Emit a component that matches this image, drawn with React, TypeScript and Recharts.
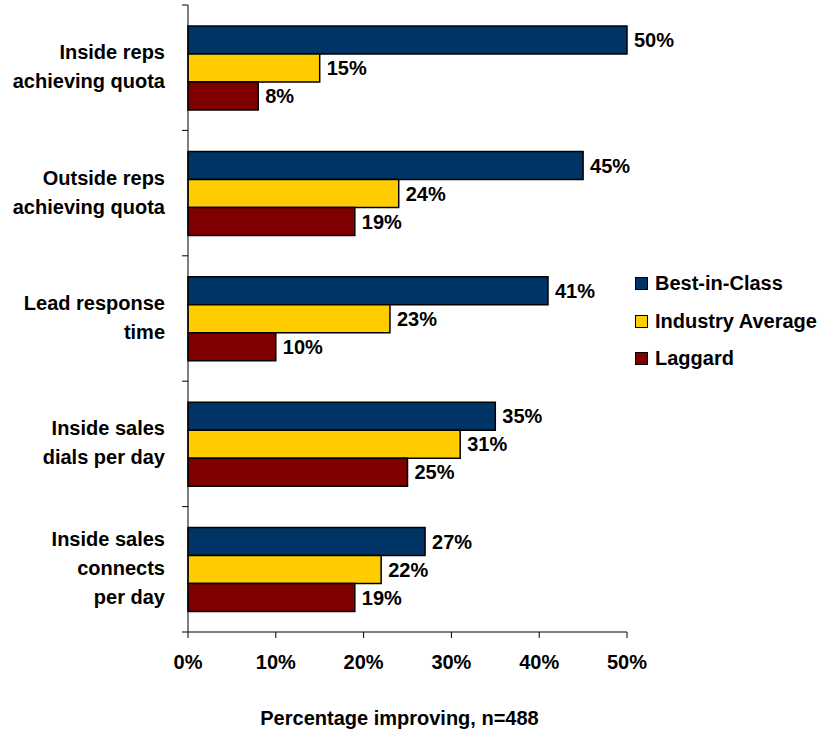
import { BarChart, Bar, XAxis, YAxis, Legend, LabelList } from "recharts";

const FONT = "'Liberation Sans', Arial, sans-serif";
const FS = 20;

const NAVY = "#003366";
const GOLD = "#FFCC00";
const MAROON = "#800000";

const categories = [
  "Inside reps\nachieving quota",
  "Outside reps\nachieving quota",
  "Lead response\ntime",
  "Inside sales\ndials per day",
  "Inside sales\nconnects\nper day",
];
const bestInClass = [50, 45, 41, 35, 27];
const industryAverage = [15, 24, 23, 31, 22];
const laggard = [8, 19, 10, 25, 19];
const xTicks = [0, 10, 20, 30, 40, 50];

const seriesInfo = [
  { key: "best", name: "Best-in-Class", color: NAVY },
  { key: "avg", name: "Industry Average", color: GOLD },
  { key: "lag", name: "Laggard", color: MAROON },
];

const data = categories.map((c, i) => ({
  category: c,
  best: bestInClass[i],
  avg: industryAverage[i],
  lag: laggard[i],
}));

const TICK_SIZE = 6;
const TICK_MARGIN = 17;
const LINE_H = 29;
const LEGEND_W = 187;

// category label plus tick marks on the band edges
function CategoryTick({ x, y, payload, index, visibleTicksCount }: any) {
  const lines = String(payload.value).split("\n");
  const half = payload.offset || 62.7;
  const axisX = x + TICK_MARGIN + TICK_SIZE;
  const last = index === (visibleTicksCount ?? categories.length) - 1;
  return (
    <g>
      <line x1={axisX - TICK_SIZE} x2={axisX} y1={y - half} y2={y - half} stroke="#000" />
      {last && (
        <line x1={axisX - TICK_SIZE} x2={axisX} y1={y + half} y2={y + half} stroke="#000" />
      )}
      <text textAnchor="end" fontFamily={FONT} fontWeight="bold" fontSize={FS} fill="#000">
        {lines.map((l, i) => (
          <tspan key={i} x={x} y={y + 6 + (i - (lines.length - 1) / 2) * LINE_H}>
            {l}
          </tspan>
        ))}
      </text>
    </g>
  );
}

function LegendBox() {
  return (
    <div style={{ fontFamily: FONT, fontWeight: "bold", fontSize: FS, color: "#000" }}>
      {seriesInfo.map((s) => (
        <div key={s.key} style={{ height: 37.5, display: "flex", alignItems: "center" }}>
          <span
            style={{
              display: "inline-block",
              width: 11,
              height: 11,
              background: s.color,
              border: "1.5px solid #000",
              marginRight: 7,
            }}
          />
          <span>{s.name}</span>
        </div>
      ))}
    </div>
  );
}

export default function App() {
  return (
    <div style={{ position: "absolute", left: 0, top: 0, background: "#fff" }}>
      <BarChart
        width={822}
        height={731}
        data={data}
        layout="vertical"
        margin={{ top: 5, right: 195 - LEGEND_W, bottom: 0, left: 0 }}
        barGap={0}
        barSize={28}
      >
        <XAxis
          type="number"
          domain={[0, 50]}
          ticks={xTicks}
          tickFormatter={(v) => `${v}%`}
          tick={{ fontFamily: FONT, fontWeight: "bold", fontSize: FS, fill: "#000" }}
          tickSize={6}
          tickMargin={17}
          stroke="#000"
          height={99}
          label={{
            value: "Percentage improving, n=488",
            position: "insideBottom",
            offset: 6,
            dx: -8,
            style: { fontFamily: FONT, fontWeight: "bold", fontSize: FS, fill: "#000" },
          }}
        />
        <YAxis
          type="category"
          dataKey="category"
          width={188}
          tickSize={TICK_SIZE}
          tickMargin={TICK_MARGIN}
          tickLine={false}
          stroke="#000"
          interval={0}
          tick={<CategoryTick />}
        />
        <Legend
          layout="horizontal"
          verticalAlign="middle"
          align="right"
          content={<LegendBox />}
          wrapperStyle={{ left: 635, top: 265, width: LEGEND_W }}
        />
        {seriesInfo.map((s) => (
          <Bar
            key={s.key}
            dataKey={s.key}
            name={s.name}
            fill={s.color}
            stroke="#000"
            strokeWidth={1.5}
            isAnimationActive={false}
          >
            <LabelList
              dataKey={s.key}
              position="right"
              offset={7}
              formatter={(v: any) => `${v}%`}
              style={{ fontFamily: FONT, fontWeight: "bold", fontSize: FS, fill: "#000" }}
            />
          </Bar>
        ))}
      </BarChart>
    </div>
  );
}
